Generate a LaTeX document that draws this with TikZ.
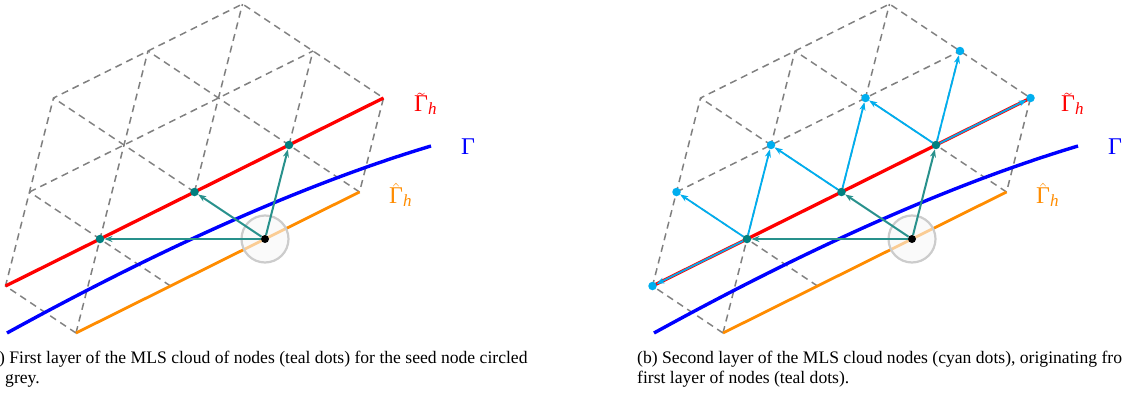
\documentclass[tikz,border=0pt]{standalone}
\usepackage[no-math]{fontspec}
\setmainfont{Liberation Serif}
\usetikzlibrary{arrows.meta,calc}
\definecolor{tealdot}{RGB}{0,128,128}
\definecolor{tealline}{RGB}{40,145,140}
\definecolor{cyanc}{RGB}{0,174,239}
\definecolor{orangec}{RGB}{255,140,0}
\definecolor{gridgrey}{RGB}{128,128,128}
\newcommand{\GamTilde}{$\tilde{\hbox{\raisebox{0pt}[12.5pt]{Γ}}}_{\hbox{\fontsize{17}{17}\selectfont\itshape h}}$}
\newcommand{\GamHat}{$\hat{\hbox{\raisebox{0pt}[13pt]{Γ}}}_{\hbox{\fontsize{17}{17}\selectfont\itshape h}}$}
\begin{document}
\begin{tikzpicture}[x=1pt,y=-1pt,
  gridline/.style={draw=gridgrey, line width=1.5pt, dash pattern=on 7pt off 5pt},
  gammaline/.style={draw=blue, line width=3.4pt},
  tildeline/.style={draw=red, line width=3.3pt},
  hatline/.style={draw=orangec, line width=2.8pt},
  tealarr/.style={draw=tealline, line width=2pt, -{Stealth[length=8pt,width=6pt,inset=2.5pt]}},
  cyanarr/.style={draw=cyanc, line width=1.8pt, -{Stealth[length=8pt,width=6pt,inset=2.5pt]}},
  tdot/.style={circle, fill=tealdot, inner sep=0pt, minimum size=8.5pt},
  cdot/.style={circle, fill=cyanc, inner sep=0pt, minimum size=8.5pt},
  seeddot/.style={circle, fill=black, inner sep=0pt, minimum size=8pt},
  seedring/.style={circle, draw=gray!40, line width=2.2pt, fill=white!94!gray, fill opacity=0.6, minimum size=47pt, inner sep=0pt},
  lbl/.style={font=\fontsize{24}{28}\selectfont, anchor=base west, inner sep=0pt},
  captext/.style={font=\fontsize{17.6}{20}\selectfont, anchor=base west, inner sep=0pt},
]
\useasboundingbox (0,0) rectangle (1128,399);
\foreach \p/\dx in {l/0,r/647}{
\begin{scope}[xshift=\dx]
  \foreach \i in {-1,...,3}{
    \foreach \j in {-1,...,2}{
      \pgfmathtruncatemacro\ia{\i+1}
      \pgfmathtruncatemacro\ja{\j+1}
      \coordinate (\p\ia\ja) at ({100+94.5*\i-70.5*\j},{239-47*\i-47*\j});
    }}
  \coordinate (\p gA) at (7,333);
  \coordinate (\p gB) at (166.5,245.3);
  \coordinate (\p gC) at (307.8,183);
  \coordinate (\p gD) at (431,146);
  % triangular grid
  \draw[gridline] (\p00) -- (\p01) -- (\p12) -- (\p23) -- (\p33) -- (\p43) -- (\p42) -- (\p41) -- (\p30);
  \draw[gridline] (\p12) -- (\p42);
  \draw[gridline] (\p10) -- (\p12);
  \draw[gridline] (\p21) -- (\p23);
  \draw[gridline] (\p30) -- (\p33);
  \draw[gridline] (\p00) -- (\p33);
  \draw[gridline] (\p21) -- (\p43);
  \draw[gridline] (\p31) -- (\p42);
  % boundaries
  \draw[hatline] (\p00) -- (\p30);
  \draw[tildeline] (\p01) -- (\p41);
  \draw[gammaline] (\p gA) .. controls (\p gB) and (\p gC) .. (\p gD);
  % seed and first layer
  \node[seedring] (\p ring) at (\p20) {};
  \node[tdot] (\p t0) at (\p11) {};
  \node[tdot] (\p t1) at (\p21) {};
  \node[tdot] (\p t2) at (\p31) {};
  \node[seeddot] (\p s) at (\p20) {};
  \draw[tealarr] (\p s) -- (\p t0);
  \draw[tealarr] (\p s) -- (\p t1);
  \draw[tealarr] (\p s) -- (\p t2);
  % labels
  \node[lbl, text=red] (\p labt) at (414,111) {\GamTilde};
  \node[lbl, text=blue] (\p labg) at (461,154) {$\hbox{Γ}$};
  \node[lbl, text=orangec] (\p labh) at (389,203) {\GamHat};
\end{scope}
}
% second layer (right panel)
\node[cdot] (c1) at (r01) {};
\node[cdot] (c2) at (r12) {};
\node[cdot] (c3) at (r22) {};
\node[cdot] (c4) at (r32) {};
\node[cdot] (c5) at (r42) {};
\node[cdot] (c6) at (r41) {};
\draw[cyanarr] (rt0) -- (c1);
\draw[cyanarr] (rt0) -- (c2);
\draw[cyanarr] (rt0) -- (c3);
\draw[cyanarr] (rt1) -- (c3);
\draw[cyanarr] (rt1) -- (c4);
\draw[cyanarr] (rt2) -- (c4);
\draw[cyanarr] (rt2) -- (c5);
\draw[cyanarr] (rt2) -- (c6);
% captions
\node[captext] (capa1) at (-1,363) {) First layer of the MLS cloud of nodes (teal dots) for the seed node circled};
\node[captext] (capa2) at (5,383) {grey.};
\node[captext] (capb1) at (637,363) {(b) Second layer of the MLS cloud nodes (cyan dots), originating fro};
\node[captext] (capb2) at (637,383) {first layer of nodes (teal dots).};
\end{tikzpicture}
\end{document}
